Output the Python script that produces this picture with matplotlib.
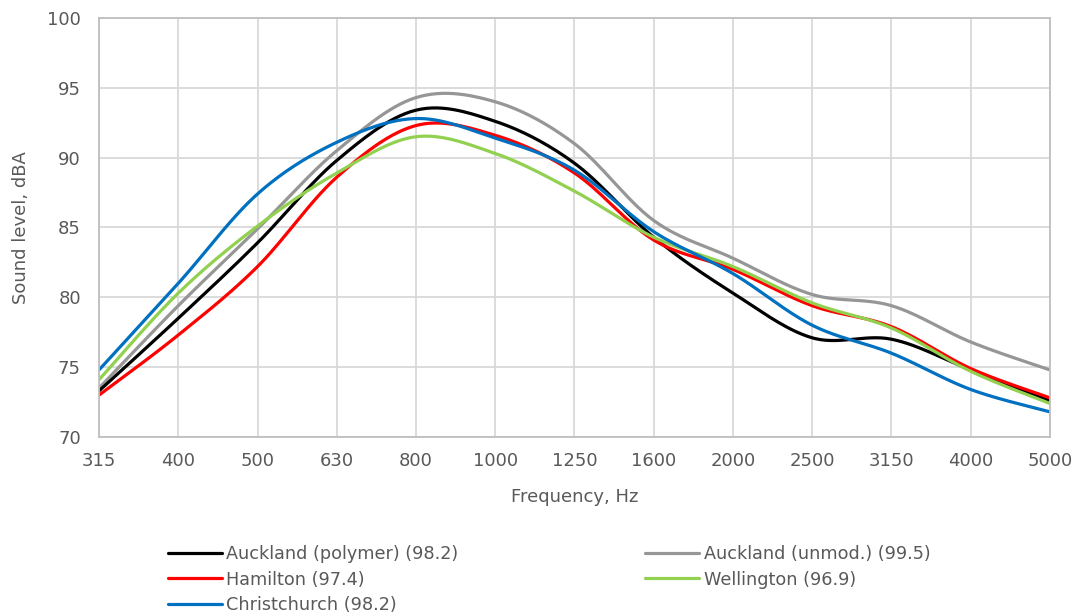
import matplotlib.pyplot as plt
import numpy as np

plt.rcParams['font.family'] = ['DejaVu Sans']

freqs = ['315', '400', '500', '630', '800', '1000', '1250', '1600',
         '2000', '2500', '3150', '4000', '5000']

auckland_poly = [73.3, 78.5, 83.9, 89.8, 93.4, 92.6, 89.6, 84.3, 80.3, 77.1, 77.0, 74.8, 72.6]
auckland_unmod = [73.5, 79.4, 84.9, 90.5, 94.3, 94.0, 91.0, 85.5, 82.8, 80.2, 79.4, 76.8, 74.8]
hamilton = [73.0, 77.3, 82.2, 88.6, 92.3, 91.6, 88.9, 84.1, 82.0, 79.4, 77.9, 74.9, 72.8]
wellington = [74.1, 80.3, 85.1, 88.9, 91.5, 90.3, 87.6, 84.3, 82.2, 79.6, 77.8, 74.7, 72.4]
christchurch = [74.8, 81.0, 87.4, 91.1, 92.8, 91.4, 89.1, 84.7, 81.7, 78.0, 76.0, 73.4, 71.8]


def smooth(y, n=30):
    # Catmull-Rom curve through the points, like spreadsheet "smoothed line"
    y = np.asarray(y, dtype=float)
    x = np.arange(len(y), dtype=float)
    px = np.concatenate([[x[0]], x, [x[-1]]])
    py = np.concatenate([[y[0]], y, [y[-1]]])
    xs, ys = [], []
    t = np.linspace(0, 1, n, endpoint=False)
    for i in range(1, len(px) - 2):
        for arr, out in ((px, xs), (py, ys)):
            p0, p1, p2, p3 = arr[i - 1], arr[i], arr[i + 1], arr[i + 2]
            c1 = p1 + (p2 - p0) / 6
            c2 = p2 - (p3 - p1) / 6
            out.extend((1 - t) ** 3 * p1 + 3 * (1 - t) ** 2 * t * c1
                       + 3 * (1 - t) * t ** 2 * c2 + t ** 3 * p2)
    xs.append(x[-1])
    ys.append(y[-1])
    return np.array(xs), np.array(ys)


series = [
    ('Auckland (polymer) (98.2)', auckland_poly, '#000000'),
    ('Hamilton (97.4)', hamilton, '#ff0000'),
    ('Christchurch (98.2)', christchurch, '#0070c0'),
    ('Auckland (unmod.) (99.5)', auckland_unmod, '#969696'),
    ('Wellington (96.9)', wellington, '#92d050'),
]
draw_order = [3, 0, 1, 4, 2]

fig = plt.figure(figsize=(10.81, 6.16), dpi=100)
ax = fig.add_axes([0.0916, 0.2906, 0.8797, 0.6802])

handles = [None] * len(series)
for i in draw_order:
    label, vals, col = series[i]
    sx, sy = smooth(vals)
    handles[i], = ax.plot(sx, sy, color=col, lw=2.3, label=label,
                          solid_capstyle='round')

ax.set_xlim(0, len(freqs) - 1)
ax.set_ylim(70, 100)
ax.set_xticks(range(len(freqs)))
ax.set_xticklabels(freqs)
ax.set_yticks(np.arange(70, 101, 5))
ax.grid(True, color='#d9d9d9', lw=1.3)
ax.set_axisbelow(True)
ax.tick_params(length=0, labelsize=13, labelcolor='#595959')
ax.tick_params(axis='y', pad=13)
ax.tick_params(axis='x', pad=11)
for s in ax.spines.values():
    s.set_color('#bfbfbf')
    s.set_linewidth(1.3)

ax.set_xlabel('Frequency, Hz', fontsize=13, color='#595959', labelpad=13)
ax.set_ylabel('Sound level, dBA', fontsize=13, color='#595959', labelpad=12)

fig.legend(handles=handles, loc='upper left', bbox_to_anchor=(0.1554, 0.115),
           ncol=2, frameon=False, fontsize=12.7, handlelength=3.05,
           handletextpad=0.25, columnspacing=10.6, labelspacing=0.42,
           borderpad=0, borderaxespad=0, labelcolor='#595959')

fig.savefig('out.png', dpi=100)
